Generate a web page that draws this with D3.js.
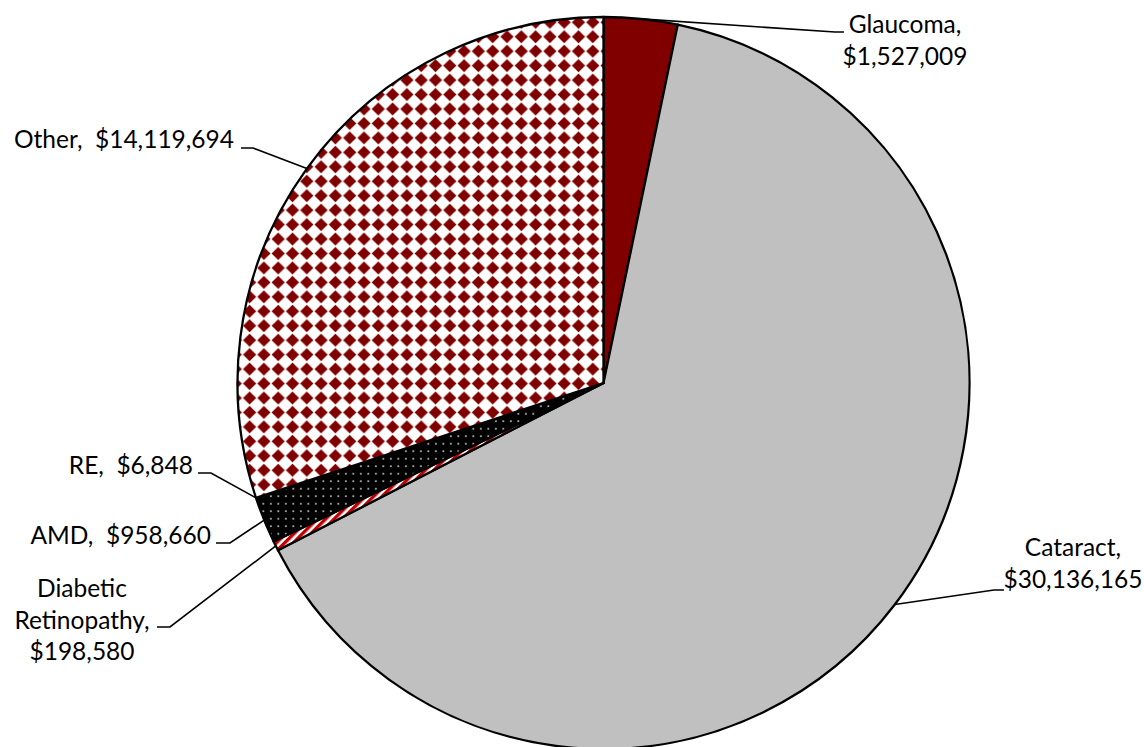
<!DOCTYPE html>
<html>
<head>
<meta charset="utf-8">
<script src="https://cdn.jsdelivr.net/npm/d3@7"></script>
<style>
  html, body { margin: 0; padding: 0; background: #fff; }
  svg text { font-family: Lato, "Open Sans", sans-serif; font-size: 24.5px; fill: #000; white-space: pre; }
</style>
</head>
<body>
<svg id="chart" width="1144" height="747"></svg>
<script>
// Eye-care spending by condition
const categories = ["Glaucoma", "Cataract", "Diabetic Retinopathy", "AMD", "RE", "Other"];
const values = [1527009, 30136165, 198580, 958660, 6848, 14119694];
// How each slice label breaks into lines
const labelLines = [
  ["Glaucoma,", "$1,527,009"],
  ["Cataract,", "$30,136,165"],
  ["Diabetic", "Retinopathy,", "$198,580"],
  ["AMD,  $958,660"],
  ["RE,  $6,848"],
  ["Other,  $14,119,694"]
];

const svg = d3.select("#chart");
const defs = svg.append("defs");

// Fills: solid maroon, grey, red/white stripes, black with dots, diamonds
const maroon = "#800000";

const stripe = defs.append("pattern").attr("id", "stripes")
  .attr("patternUnits", "userSpaceOnUse").attr("width", 6).attr("height", 6)
  .attr("patternTransform", "rotate(45)");
stripe.append("rect").attr("width", 6).attr("height", 6).attr("fill", "#fff");
stripe.append("rect").attr("width", 3.4).attr("height", 6).attr("fill", "#c00000");

const dots = defs.append("pattern").attr("id", "dots")
  .attr("patternUnits", "userSpaceOnUse").attr("width", 7.5).attr("height", 7.5)
  .attr("x", 4.8 - 3.75).attr("y", 0.7 - 3.75);
dots.append("rect").attr("width", 7.5).attr("height", 7.5).attr("fill", "#000");
dots.append("rect").attr("x", 3).attr("y", 3).attr("width", 1.6).attr("height", 1.6).attr("fill", "#d8d8d8");

const dw = 14.3, dh = 14.45;
const diamonds = defs.append("pattern").attr("id", "diamonds")
  .attr("patternUnits", "userSpaceOnUse").attr("width", dw).attr("height", dh)
  .attr("x", 3.6 - dw / 2).attr("y", 0.55 - dh / 2);
diamonds.append("rect").attr("width", dw).attr("height", dh).attr("fill", "#fff");
const hd = 6.6;
diamonds.append("path")
  .attr("d", `M${dw/2},${dh/2 - hd} L${dw/2 + hd},${dh/2} L${dw/2},${dh/2 + hd} L${dw/2 - hd},${dh/2} Z`)
  .attr("fill", maroon);

const fills = [maroon, "#c0c0c0", "url(#stripes)", "url(#dots)", "url(#dots)", "url(#diamonds)"];

// Pie geometry
const cx = 603.5, cy = 383, radius = 366;
const g = svg.append("g").attr("transform", `translate(${cx},${cy})`);

const pie = d3.pie().sort(null).value(d => d)(values);
const arc = d3.arc().innerRadius(0).outerRadius(radius);

g.selectAll("path.slice").data(pie).join("path")
  .attr("class", "slice")
  .attr("d", arc)
  .attr("fill", (d, i) => fills[i])
  .attr("stroke", "#000")
  .attr("stroke-width", 2.3)
  .attr("stroke-linejoin", "round");

// Label layout: elbow of leader, end of leader, text anchor point
const labelLayout = [
  { elbow: [835, 32], end: [844, 32], anchor: "middle", tx: 905, ty: 33 },
  { elbow: [994, 590], end: [1004, 590], anchor: "middle", tx: 1073, ty: 556 },
  { elbow: [170, 627], end: [157, 627], anchor: "middle", tx: 82, ty: 597 },
  { elbow: [230, 543], end: [216, 543], anchor: "end", tx: 211, ty: 544 },
  { elbow: [211, 473], end: [198, 473], anchor: "end", tx: 193, ty: 474 },
  { elbow: [253, 148], end: [241, 148], anchor: "end", tx: 234, ty: 148 }
];
const lineGap = 31.5;

const edge = d3.arc().innerRadius(radius).outerRadius(radius);
const labels = svg.append("g");
pie.forEach((d, i) => {
  const [ex, ey] = edge.centroid(d);
  const L = labelLayout[i];
  labels.append("polyline")
    .attr("points", [[cx + ex, cy + ey], L.elbow, L.end].map(p => p.join(",")).join(" "))
    .attr("fill", "none").attr("stroke", "#000").attr("stroke-width", 1.6);
  const t = labels.append("text").attr("text-anchor", L.anchor);
  labelLines[i].forEach((s, k) => {
    t.append("tspan").attr("x", L.tx).attr("y", L.ty + k * lineGap).text(s);
  });
});
</script>
</body>
</html>
